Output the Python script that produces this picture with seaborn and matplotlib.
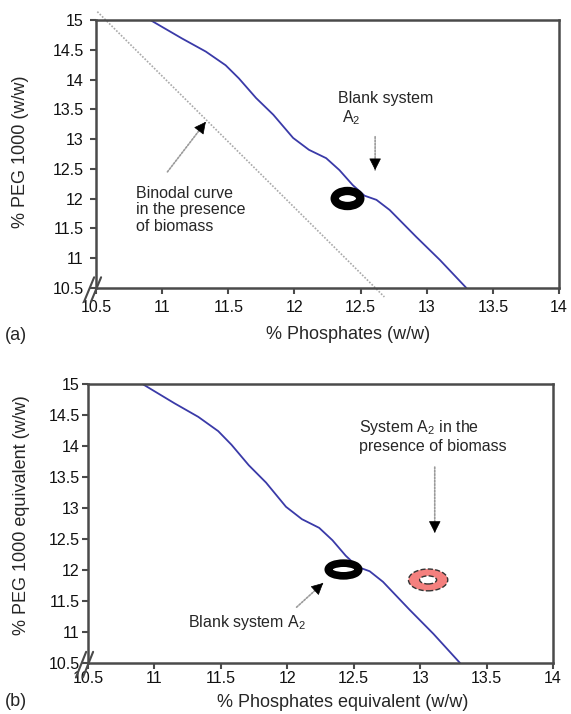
import numpy as np
import matplotlib
matplotlib.use("Agg")
import matplotlib.pyplot as plt
from matplotlib.path import Path
import seaborn as sns

# blank system binodal curve
binodal_x = [10.91, 11.15, 11.33, 11.48, 11.58, 11.71, 11.84, 11.99, 12.11, 12.24,
             12.34, 12.44, 12.53, 12.62, 12.72, 12.92, 13.10, 13.30]
binodal_y = [15.00, 14.69, 14.47, 14.24, 14.02, 13.69, 13.41, 13.02, 12.82, 12.68,
             12.48, 12.23, 12.05, 11.98, 11.81, 11.36, 10.97, 10.50]

# binodal in the presence of biomass (straight line in panel a)
biomass_x = [10.51, 12.68]
biomass_y = [15.14, 10.35]

# system points
blank_a = ([12.40], [12.01])
blank_b = ([12.42], [12.02])
biomass_pt = ([13.06], [11.84])

ticks_x = [10.5, 11, 11.5, 12, 12.5, 13, 13.5, 14]
ticks_y = [10.5, 11, 11.5, 12, 12.5, 13, 13.5, 14, 14.5, 15]

sns.set_theme(style="white")
plt.rcParams["font.family"] = ["Liberation Sans", "DejaVu Sans"]
plt.rcParams["mathtext.fontset"] = "custom"
plt.rcParams["mathtext.rm"] = "Liberation Sans"
plt.rcParams["mathtext.it"] = "Liberation Sans:italic"

SPINE = "#4a4a4a"
BLUE = "#3a3aa8"
W, H = 571, 714

fig = plt.figure(figsize=(W / 100, H / 100), dpi=100)


def box(l, t, r, b):
    return [l / W, 1 - b / H, (r - l) / W, (b - t) / H]


ax_a = fig.add_axes(box(96, 20, 559, 288))
ax_b = fig.add_axes(box(88, 384, 553, 663))


def ellipse(aspect):
    c = Path.unit_circle()
    return Path(c.vertices * [aspect, 1.0], c.codes)


def style(ax, pad):
    ax.set_xlim(10.5, 14)
    ax.set_ylim(10.5, 15)
    ax.set_xticks(ticks_x)
    ax.set_yticks(ticks_y)
    ax.set_xticklabels([f"{t:g}" for t in ticks_x])
    ax.set_yticklabels([f"{t:g}" for t in ticks_y])
    for s in ax.spines.values():
        s.set_visible(True)
        s.set_color(SPINE)
        s.set_linewidth(1.8)
    ax.tick_params(direction="out", length=4, width=1.5, color=SPINE,
                   labelsize=11.5, labelcolor="#111111", bottom=True, left=True, pad=pad)
    # axis break marks
    for dx in (0.0, 0.015):
        ax.plot([-0.026 + dx, -0.004 + dx], [-0.052, 0.04], color=SPINE, lw=1.5,
                transform=ax.transAxes, clip_on=False)


def arrow(ax, start, tip, head_len=7.5):
    ax.annotate("", xy=tip, xytext=start,
                arrowprops=dict(arrowstyle="-", color="#9a9a9a", lw=1.2,
                                linestyle=(0, (1, 1)), shrinkA=0, shrinkB=0))
    p0 = ax.transData.transform(start)
    p1 = ax.transData.transform(tip)
    d = (p1 - p0) / np.hypot(*(p1 - p0))
    off = -d * head_len
    ax.annotate("", xy=tip, xytext=(off[0], off[1]), textcoords="offset points",
                arrowprops=dict(arrowstyle="-|>,head_length=0.75,head_width=0.38",
                                mutation_scale=10, color="black", lw=0.5,
                                shrinkA=0, shrinkB=0))


def ring(ax, pt, s, aspect, lw):
    sns.scatterplot(x=pt[0], y=pt[1], ax=ax, marker=ellipse(aspect), s=s,
                    facecolor="white", edgecolor="black", linewidth=lw, zorder=5)


# ---- panel (a)
style(ax_a, 5)
sns.lineplot(x=biomass_x, y=biomass_y, ax=ax_a, color="#a8a8a8", lw=1.2,
             linestyle=(0, (1, 1)), clip_on=False, sort=False)
sns.lineplot(x=binodal_x, y=binodal_y, ax=ax_a, color=BLUE, lw=1.3, sort=False)
ring(ax_a, blank_a, 340, 1.7, 6.0)
ax_a.text(12.33, 13.69, "Blank system", fontsize=11.5, va="center", ha="left")
ax_a.text(12.36, 13.36, "A$_2$", fontsize=11.5, va="center", ha="left")
arrow(ax_a, (12.61, 13.04), (12.61, 12.48))
ax_a.text(10.80, 11.81, "Binodal curve\nin the presence\nof biomass", fontsize=11.5,
          va="center", ha="left", linespacing=1.1)
arrow(ax_a, (11.04, 12.45), (11.33, 13.29))
ax_a.set_xlabel("% Phosphates (w/w)", fontsize=13)
ax_a.set_ylabel("% PEG 1000 (w/w)", fontsize=13)
ax_a.xaxis.label.set_va("center")
ax_a.yaxis.label.set_va("center")
ax_a.xaxis.set_label_coords(0.545, -0.175)
ax_a.yaxis.set_label_coords(-0.162, 0.507)

# ---- panel (b)
style(ax_b, 2)
sns.lineplot(x=binodal_x, y=binodal_y, ax=ax_b, color=BLUE, lw=1.3, sort=False)
ring(ax_b, blank_b, 480, 2.4, 5.5)
sns.scatterplot(x=biomass_pt[0], y=biomass_pt[1], ax=ax_b, marker=ellipse(1.8), s=800,
                facecolor="#f4807e", edgecolor="#333333", linewidth=1.0,
                linestyle="--", zorder=5)
sns.scatterplot(x=biomass_pt[0], y=biomass_pt[1], ax=ax_b, marker=ellipse(2.1), s=150,
                facecolor="white", edgecolor="#333333", linewidth=1.0,
                linestyle="--", zorder=6)
ax_b.text(12.54, 14.16, "System A$_2$ in the\npresence of biomass", fontsize=11.5,
          va="center", ha="left", linespacing=1.1)
arrow(ax_b, (13.11, 13.66), (13.11, 12.60))
ax_b.text(11.25, 11.16, "Blank system A$_2$", fontsize=11.5, va="center", ha="left")
arrow(ax_b, (12.07, 11.40), (12.27, 11.79))
ax_b.set_xlabel("% Phosphates equivalent (w/w)", fontsize=13)
ax_b.set_ylabel("% PEG 1000 equivalent (w/w)", fontsize=13)
ax_b.xaxis.label.set_va("center")
ax_b.yaxis.label.set_va("center")
ax_b.xaxis.set_label_coords(0.548, -0.143)
ax_b.yaxis.set_label_coords(-0.142, 0.53)

fig.text(5 / W, 1 - 335 / H, "(a)", fontsize=13, va="center", ha="left")
fig.text(5 / W, 1 - 702 / H, "(b)", fontsize=13, va="center", ha="left")

fig.savefig("out.png", dpi=100)
